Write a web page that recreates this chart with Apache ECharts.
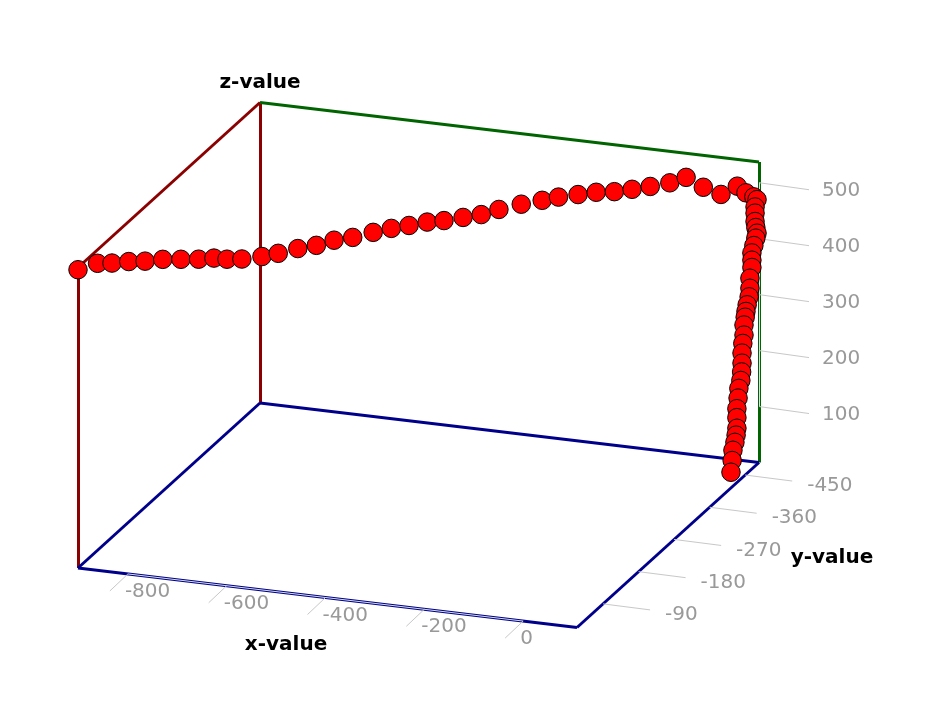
<!DOCTYPE html>
<html>
<head>
<meta charset="utf-8">
<style>html,body{margin:0;padding:0;background:#fff}#c{width:926px;height:724px}</style>
<script src="https://cdn.jsdelivr.net/npm/echarts@6/dist/echarts.min.js"></script>
</head>
<body>
<div id="c"></div>
<script>
// Data values
const xValues = [-901,-871,-849,-823,-798,-771,-743,-716,-693,-673,-650,-619,-594,-564,-536,-509,-480,-449,-421,-394,-366,-340,-311,-283,-256,-222,-190,-165,-135,-107,-79,-52,-24,6,31,57,84,109,
  109,109,109,109,109,109,109,109,109,109,109,109,109,109,109,109,109,109,109,109,109,109,109,109,109,109,109,109,109,109,109,109,109,109,109,109];
const yValues = [-24,-36,-45,-55,-65,-76,-87,-98,-108,-116,-125,-137,-147,-159,-171,-182,-193,-206,-217,-228,-239,-249,-261,-272,-283,-297,-310,-320,-332,-343,-354,-365,-376,-388,-398,-409,-420,-430,
  -452,-472,-480,-475,-475,-475,-477,-480,-477,-472,-467,-467,-467,-462,-462,-460,-455,-452,-450,-447,-447,-444,-442,-442,-441,-439,-434,-432,-429,-429,-429,-427,-424,-419,-417,-414];
const zValues = [533,540,537,536,533,532,528,524,522,517,514,514,516,520,521,526,527,531,534,535,537,536,537,538,543,547,549,551,551,551,548,548,549,551,557,535,518,529,
  503,483,473,463,452,437,425,413,406,396,386,373,360,344,326,312,301,291,282,270,252,239,223,205,190,176,165,149,132,116,97,86,75,64,47,28];
const xTicks = [-800,-600,-400,-200,0];
const yTicks = [-90,-180,-270,-360,-450];
const zTicks = [100,200,300,400,500];
const xRange = [-901,109];
const yRange = [-24,-485];
const zRange = [0,537];

// Orthographic projection of the box
const origin = [78,568], ex = [499,59.5], ey = [182,-165], ez = [0,-300.5];
function project(x,y,z){
  const a=(x-xRange[0])/(xRange[1]-xRange[0]);
  const b=(y-yRange[0])/(yRange[1]-yRange[0]);
  const c=(z-zRange[0])/(zRange[1]-zRange[0]);
  return [origin[0]+a*ex[0]+b*ey[0]+c*ez[0], origin[1]+a*ex[1]+b*ey[1]+c*ez[1]];
}
const [x0,x1]=xRange,[y0,y1]=yRange,[z0,z1]=zRange;
function edge(p,q){return {coords:[project(...p),project(...q)]};}
function shift(pt,d){return [pt[0]+d[0],pt[1]+d[1]];}
function lines(data,color,width){
  return {type:'lines',coordinateSystem:'cartesian2d',polyline:false,silent:true,animation:false,
    lineStyle:{color:color,width:width,opacity:1,curveness:0},data:data,effect:{show:false}};
}
function labels(data,pos,style){
  return {type:'scatter',symbolSize:0,silent:true,animation:false,data:data,itemStyle:{opacity:1},
    label:Object.assign({show:true,position:pos,distance:0,formatter:p=>p.data.name,fontFamily:'DejaVu Sans'},style)};
}
const tickColor='#c8c8c8', textColor='#999999';
const xTick=[-18,17], yTick=[47,6], zTick=[50,7];
const tickStyle={fontSize:20,color:textColor};
const titleStyle={fontSize:20,color:'#000',fontWeight:'bold',align:'center',verticalAlign:'middle'};

const series=[
  lines([edge([x0,y0,z0],[x0,y0,z1]),edge([x0,y1,z0],[x0,y1,z1]),edge([x0,y0,z1],[x0,y1,z1])],'#8b0000',3),
  lines([edge([x0,y1,z1],[x1,y1,z1]),edge([x1,y1,z1],[x1,y1,z0])],'#006400',3),
  lines([edge([x0,y0,z0],[x1,y0,z0]),edge([x1,y0,z0],[x1,y1,z0]),edge([x1,y1,z0],[x0,y1,z0]),edge([x0,y1,z0],[x0,y0,z0])],'#00008b',3),
  lines([edge([xTicks[0],y0,z0],[xTicks[4],y0,z0]),edge([x1,y1,zTicks[0]],[x1,y1,zTicks[4]])],'#d8e0e8',1),
  lines(xTicks.map(v=>{const p=project(v,y0,z0);return {coords:[p,shift(p,xTick)]};}),tickColor,1),
  lines(yTicks.map(v=>{const p=project(x1,v,z0);return {coords:[p,shift(p,yTick)]};}),tickColor,1),
  lines(zTicks.map(v=>{const p=project(x1,y1,v);return {coords:[p,shift(p,zTick)]};}),tickColor,1),
  labels(xTicks.map(v=>({name:String(v),value:shift(project(v,y0,z0),[xTick[0]+15,xTick[1]+1])})),'right',tickStyle),
  labels(yTicks.map(v=>({name:String(v),value:shift(project(x1,v,z0),[yTick[0]+15,yTick[1]+5])})),'right',tickStyle),
  labels(zTicks.map(v=>({name:String(v),value:shift(project(x1,y1,v),[zTick[0]+13,zTick[1]+1])})),'right',tickStyle),
  labels([{name:'z-value',value:[260,83]},{name:'x-value',value:[286,645]},{name:'y-value',value:[832,558]}],'inside',titleStyle),
  {type:'scatter',name:'points',symbol:'circle',symbolSize:18.5,animation:false,clip:false,
    itemStyle:{color:'#ff0000',borderColor:'#000',borderWidth:1,opacity:1},
    data:xValues.map((x,i)=>project(x,yValues[i],zValues[i]))}
];
const chart=echarts.init(document.getElementById('c'),null,{renderer:'canvas'});
chart.setOption({
  backgroundColor:'#fff',animation:false,
  grid:{left:0,right:0,top:0,bottom:0},
  xAxis:{type:'value',min:0,max:926,show:false},
  yAxis:{type:'value',min:0,max:724,inverse:true,show:false},
  series:series
});
</script>
</body>
</html>
